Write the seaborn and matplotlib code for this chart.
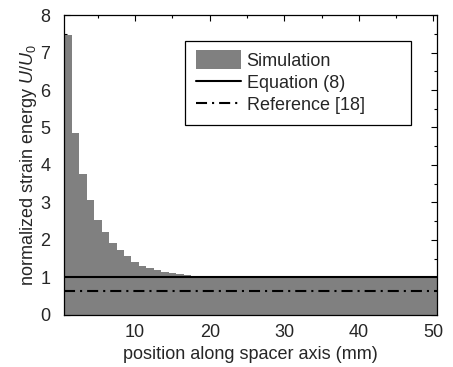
import numpy as np
import seaborn as sns
import matplotlib.pyplot as plt
from matplotlib.patches import Rectangle
from matplotlib.lines import Line2D
from matplotlib.legend_handler import HandlerPatch

# position of each simulated segment along the spacer (mm) and its energy
position_mm = list(range(1, 51))
strain_energy = [7.47, 4.86, 3.76, 3.06, 2.54, 2.20, 1.93, 1.73, 1.56, 1.41,
                 1.31, 1.25, 1.20, 1.15, 1.11, 1.08, 1.06, 1.04, 1.04, 1.03,
                 1.02, 1.01, 1.01, 1.03, 1.02, 1.01, 1.01, 1.02, 1.01, 1.01,
                 1.01, 1.01, 1.02, 1.01, 1.01, 1.02, 1.01, 1.01, 1.01, 1.01,
                 1.01, 1.01, 1.01, 1.01, 1.01, 1.01, 1.02, 1.03, 1.01, 1.01]
equation_8 = 1.0
reference_18 = 0.65
legend_labels = ['Simulation', 'Equation (8)', 'Reference [18]']

sns.set_theme(style='ticks')
plt.rcParams['font.family'] = ['Liberation Sans', 'DejaVu Sans']
plt.rcParams['mathtext.fontset'] = 'custom'
plt.rcParams['mathtext.it'] = 'Liberation Sans:italic'
plt.rcParams['mathtext.rm'] = 'Liberation Sans'

FS = 13
GREY = '#808080'
DASHDOT = (5.3, 2.4, 1.0, 2.4)

fig = plt.figure(figsize=(4.53, 3.67), dpi=100)
ax = fig.add_axes([0.142, 0.142, 0.823, 0.817])

sns.histplot(x=position_mm, weights=strain_energy, discrete=True, color=GREY,
             alpha=1, linewidth=0, ax=ax)
ax.axhline(equation_8, color='black', lw=1.5)
ax.axhline(reference_18, color='black', lw=1.5, dashes=DASHDOT)

ax.set_xlim(0.5, 50.5)
ax.set_ylim(0, 8)
ax.set_xticks([10, 20, 30, 40, 50])
ax.set_xticks(range(5, 51, 10), minor=True)
ax.set_yticks(range(0, 9))
ax.set_yticks(np.arange(0.5, 8, 1.0), minor=True)
ax.tick_params(which='both', direction='in', top=True, right=True, labelsize=FS, color='black')
ax.tick_params(axis='x', which='both', pad=6.5)
ax.tick_params(axis='y', which='both', pad=10)
ax.tick_params(which='major', length=4.5, width=0.8)
ax.tick_params(which='minor', length=2.5, width=0.8)
for s in ax.spines.values():
    s.set_color('black')
    s.set_linewidth(0.9)

ax.set_xlabel('position along spacer axis (mm)', fontsize=FS, labelpad=4)
ax.set_ylabel('normalized strain energy $U/U_0$', fontsize=FS, labelpad=1)


def tall_patch(legend, orig_handle, xdescent, ydescent, width, height, fontsize):
    extra = 0.1 * height
    return Rectangle((-xdescent, -ydescent - extra), width, height + 2 * extra)


proxies = [Rectangle((0, 0), 1, 1, color=GREY, lw=0),
           Line2D([], [], color='black', lw=1.5),
           Line2D([], [], color='black', lw=1.5, dashes=DASHDOT)]
leg = ax.legend(proxies, legend_labels,
                loc='upper left', bbox_to_anchor=(0.324, 0.641, 0.606, 0.273),
                mode='expand', borderaxespad=0,
                fontsize=FS, frameon=True, fancybox=False, edgecolor='black',
                framealpha=1, handlelength=2.5, handleheight=1.0, handletextpad=0.3,
                labelspacing=0.2, borderpad=0.6,
                handler_map={Rectangle: HandlerPatch(patch_func=tall_patch)})
leg.get_frame().set_linewidth(0.9)

fig.savefig('out.png', dpi=100)
